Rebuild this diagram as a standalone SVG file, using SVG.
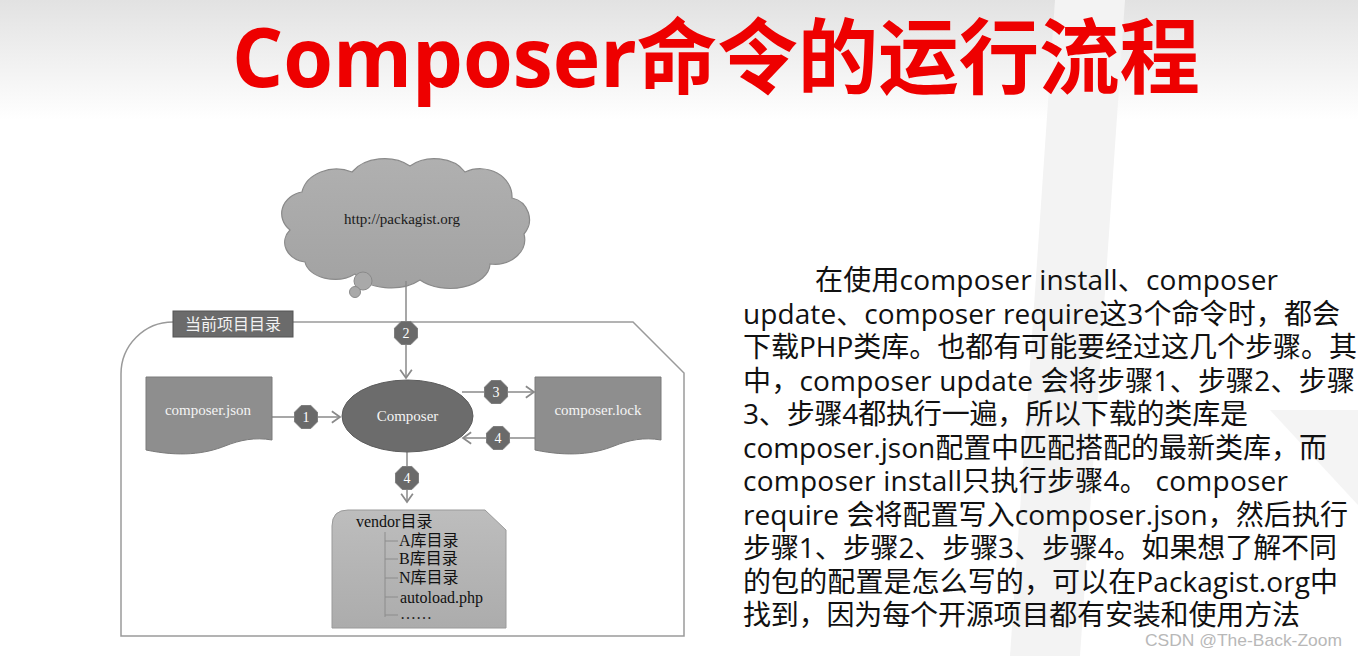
<svg xmlns="http://www.w3.org/2000/svg" xmlns:xlink="http://www.w3.org/1999/xlink" width="1358" height="656" viewBox="0 0 1358 656">
<defs>
<linearGradient id="topbg" x1="0" y1="0" x2="0" y2="1">
<stop offset="0" stop-color="#e2e2e2"/>
<stop offset="1" stop-color="#ffffff"/>
</linearGradient>
<linearGradient id="vendorFill" x1="0" y1="0" x2="0" y2="1">
<stop offset="0" stop-color="#bdbdbd"/>
<stop offset="1" stop-color="#acacac"/>
</linearGradient>
<linearGradient id="cloudFill" x1="0" y1="0" x2="0" y2="1">
<stop offset="0" stop-color="#b0b0b0"/>
<stop offset="1" stop-color="#a2a2a2"/>
</linearGradient>
<polygon id="badge" points="11.5,4.8 4.8,11.5 -4.8,11.5 -11.5,4.8 -11.5,-4.8 -4.8,-11.5 4.8,-11.5 11.5,-4.8"/>
<marker id="arrow" markerUnits="userSpaceOnUse" markerWidth="14" markerHeight="14" viewBox="-8 -6 10 12" refX="0" refY="0" orient="auto">
<path d="M-7,-5 L0,0 L-7,5" fill="none" stroke="#8a8a8a" stroke-width="1.5"/>
</marker>
<style>
.title{font-family:"Open Sans","Noto Sans CJK SC",sans-serif;font-weight:bold;fill:#ee0000}
.para{font-family:"Open Sans","Noto Sans CJK SC",sans-serif;font-size:28px;fill:#111}
.serif{font-family:"Liberation Serif","Noto Sans CJK SC",serif}
.wtext{fill:#f4f4f4;font-size:15px;text-anchor:middle}
.btext{fill:#ffffff;font-size:14px;text-anchor:middle}
.vtext{fill:#111;font-size:16px}
.conn{fill:none;stroke:#8a8a8a;stroke-width:1.5}
.badge{fill:#6a6a6a;stroke:#7e7e7e;stroke-width:1}
.doc{fill:#8e8e8e;stroke:#7a7a7a;stroke-width:1}
.tree{fill:none;stroke:#8c8c8c;stroke-width:1}
</style>
</defs>

<rect x="0" y="0" width="1358" height="656" fill="#ffffff"/>
<rect x="0" y="0" width="1358" height="120" fill="url(#topbg)"/>
<polygon points="1055,0 1125,0 1080,656 1010,656" fill="#f3f3f3"/>
<polygon points="1270,410 1358,410 1358,505" fill="#f4f4f4"/>

<text class="title" x="232" y="87" font-size="82" textLength="968" lengthAdjust="spacingAndGlyphs">Composer命令的运行流程</text>

<g id="container">
<path d="M173,322 A52,52 0 0 0 121,374 V636 H684 V373 L633,322 H293" fill="none" stroke="#9a9a9a" stroke-width="1.5"/>
</g>
<g id="label">
<rect x="173" y="311" width="120" height="26" fill="#6b6b6b" stroke="#555" stroke-width="1"/>
<text class="serif" x="233" y="330" font-size="16" fill="#f2f2f2" text-anchor="middle">当前项目目录</text>
</g>

<g id="cloud">
<path d="M305,262 A25,20 0 0 1 290,230 A25,22 0 0 1 302,192 A35,28 0 0 1 352,172 A38,28 0 0 1 410,166 A35,26 0 0 1 465,172 A32,28 0 0 1 512,198 A22,22 0 0 1 524,234 A30,25 0 0 1 490,264 A40,25 0 0 1 420,280 A40,25 0 0 1 355,274 A30,20 0 0 1 305,262 Z" fill="url(#cloudFill)" stroke="#8a8a8a" stroke-width="1.2"/>
<circle cx="363" cy="281" r="9" fill="#a9a9a9" stroke="#8a8a8a" stroke-width="1"/>
<circle cx="355" cy="292" r="5.5" fill="#a9a9a9" stroke="#8a8a8a" stroke-width="1"/>
<text class="serif" x="402" y="224" font-size="15" fill="#1a1a1a" text-anchor="middle">http://packagist.org</text>
</g>

<g id="connectors">
<line class="conn" x1="406" y1="281" x2="406" y2="378" marker-end="url(#arrow)"/>
<line class="conn" x1="272" y1="417" x2="340" y2="417" marker-end="url(#arrow)"/>
<line class="conn" x1="462" y1="392" x2="534" y2="392" marker-end="url(#arrow)"/>
<line class="conn" x1="535" y1="438" x2="463" y2="438" marker-end="url(#arrow)"/>
<line class="conn" x1="407" y1="452" x2="407" y2="502" marker-end="url(#arrow)"/>
<use href="#badge" class="badge" x="406" y="333"/>
<text class="serif btext" x="406" y="338">2</text>
<use href="#badge" class="badge" x="306" y="417"/>
<text class="serif btext" x="306" y="422">1</text>
<use href="#badge" class="badge" x="496" y="392"/>
<text class="serif btext" x="496" y="397">3</text>
<use href="#badge" class="badge" x="498" y="438"/>
<text class="serif btext" x="498" y="443">4</text>
<use href="#badge" class="badge" x="407" y="478"/>
<text class="serif btext" x="407" y="483">4</text>
</g>

<g id="composer-json">
<path class="doc" d="M146,377 H272 V440 C255,437 240,440 225,446 C205,454 180,457 146,450 Z"/>
<text class="serif wtext" x="208" y="415">composer.json</text>
</g>

<g id="composer">
<ellipse cx="407.5" cy="416" rx="65.5" ry="36" fill="#6c6c6c" stroke="#5c5c5c" stroke-width="1"/>
<text class="serif wtext" x="407.5" y="421">Composer</text>
</g>

<g id="composer-lock">
<path class="doc" d="M535,377 H661 V440 C644,437 629,440 614,446 C594,454 569,457 535,450 Z"/>
<text class="serif wtext" x="598" y="415">composer.lock</text>
</g>

<g id="vendor">
<path d="M332,526 Q332,510 348,510 H485 L506,530 V628 H332 Z" fill="url(#vendorFill)" stroke="#9a9a9a" stroke-width="1"/>
<text class="serif vtext" x="356" y="527">vendor目录</text>
<path class="tree" d="M385,532 V617 M385,541 H398 M385,559 H398 M385,578 H398 M385,597 H398 M385,615 H398"/>
<text class="serif vtext" x="399" y="546">A库目录</text>
<text class="serif vtext" x="399" y="564">B库目录</text>
<text class="serif vtext" x="399" y="583">N库目录</text>
<text class="serif vtext" x="400" y="603">autoload.php</text>
<text x="400" y="619" font-family="Liberation Serif, serif" font-size="16" fill="#222">……</text>
</g>

<g id="description">
<text class="para" x="815" y="290" textLength="463" lengthAdjust="spacing">在使用composer install、composer</text>
<text class="para" x="743" y="323.5" textLength="597" lengthAdjust="spacing">update、composer require这3个命令时，都会</text>
<text class="para" x="743" y="357" textLength="614" lengthAdjust="spacing">下载PHP类库。也都有可能要经过这几个步骤。其</text>
<text class="para" x="743" y="390.5" textLength="612" lengthAdjust="spacing">中，composer update 会将步骤1、步骤2、步骤</text>
<text class="para" x="743" y="424" textLength="505" lengthAdjust="spacing">3、步骤4都执行一遍，所以下载的类库是</text>
<text class="para" x="743" y="457.5" textLength="584" lengthAdjust="spacing">composer.json配置中匹配搭配的最新类库，而</text>
<text class="para" x="743" y="491" textLength="545" lengthAdjust="spacing">composer install只执行步骤4。 composer</text>
<text class="para" x="743" y="524.5" textLength="605" lengthAdjust="spacing">require 会将配置写入composer.json，然后执行</text>
<text class="para" x="743" y="558" textLength="594" lengthAdjust="spacing">步骤1、步骤2、步骤3、步骤4。如果想了解不同</text>
<text class="para" x="743" y="591.5" textLength="595" lengthAdjust="spacing">的包的配置是怎么写的，可以在Packagist.org中</text>
<text class="para" x="743" y="625" textLength="557" lengthAdjust="spacing">找到，因为每个开源项目都有安装和使用方法</text>
</g>

<text x="1145" y="646" font-family="Liberation Sans, Arial, sans-serif" font-size="17" fill="#b8b8b8" textLength="197" lengthAdjust="spacingAndGlyphs">CSDN @The-Back-Zoom</text>
</svg>
